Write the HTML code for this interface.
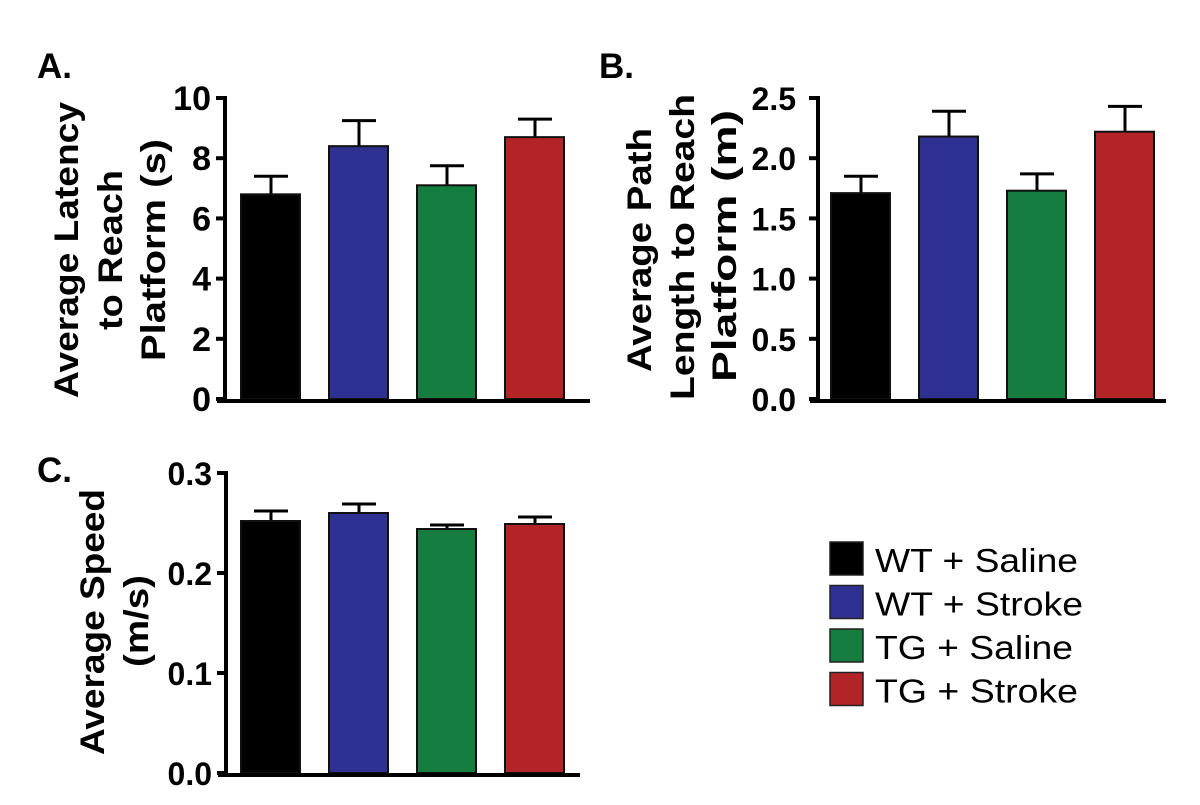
<!DOCTYPE html>
<html><head><meta charset="utf-8">
<style>
html,body{margin:0;padding:0;background:#fff;}
svg{display:block;font-family:"Liberation Sans",Arial,sans-serif;}
</style></head>
<body>
<svg id="fig" width="1200" height="805" viewBox="0 0 1200 805">
  <text x="37" y="78" font-size="35" font-weight="bold">A.</text>
  <text x="599" y="78" font-size="35" font-weight="bold">B.</text>
  <text x="37" y="482" font-size="35" font-weight="bold">C.</text>

  <g font-size="34" font-weight="bold" text-anchor="middle">
    <text transform="translate(78,250) rotate(-90)" textLength="296" lengthAdjust="spacingAndGlyphs">Average Latency</text>
    <text transform="translate(122,250) rotate(-90)" textLength="160" lengthAdjust="spacingAndGlyphs">to Reach</text>
    <text transform="translate(165,250) rotate(-90)" textLength="222" lengthAdjust="spacingAndGlyphs">Platform (s)</text>
  </g>
  <g font-size="34" font-weight="bold" text-anchor="middle">
    <text transform="translate(651,250) rotate(-90)" textLength="244" lengthAdjust="spacingAndGlyphs">Average Path</text>
    <text transform="translate(694,247) rotate(-90)" textLength="306" lengthAdjust="spacingAndGlyphs">Length to Reach</text>
    <text transform="translate(736,246) rotate(-90)" textLength="272" lengthAdjust="spacingAndGlyphs">Platform (m)</text>
  </g>
  <g font-size="34" font-weight="bold" text-anchor="middle">
    <text transform="translate(104,622) rotate(-90)" textLength="266" lengthAdjust="spacingAndGlyphs">Average Speed</text>
    <text transform="translate(148,621) rotate(-90)" textLength="92" lengthAdjust="spacingAndGlyphs">(m/s)</text>
  </g>

  <g id="legend"></g>
</svg>
<script>
const categories = ["WT + Saline", "WT + Stroke", "TG + Saline", "TG + Stroke"];
const colors = ["#000000", "#2e3192", "#157d3e", "#b22426"];
const latencyValues = [6.8, 8.4, 7.1, 8.7];
const latencyErrors = [0.6, 0.85, 0.65, 0.6];
const latencyTicks = ["0", "2", "4", "6", "8", "10"];
const pathValues = [1.71, 2.18, 1.73, 2.22];
const pathErrors = [0.14, 0.21, 0.14, 0.21];
const pathTicks = ["0.0", "0.5", "1.0", "1.5", "2.0", "2.5"];
const speedValues = [0.252, 0.260, 0.244, 0.249];
const speedErrors = [0.010, 0.009, 0.004, 0.007];
const speedTicks = ["0.0", "0.1", "0.2", "0.3"];

const NS = "http://www.w3.org/2000/svg";
const svg = document.getElementById("fig");
function el(tag, attrs, parent) {
  const e = document.createElementNS(NS, tag);
  for (const k in attrs) e.setAttribute(k, attrs[k]);
  (parent || svg).appendChild(e);
  return e;
}

function panel(id, cfg, values, errors, ticks) {
  const g = el("g", {});
  
  
  const max = parseFloat(ticks[ticks.length - 1]);
  const y = v => cfg.y0 - (v / max) * (cfg.y0 - cfg.yTop);
  const x = i => cfg.x0 + i * 88;
  values.forEach((v, i) => {
    const cx = x(i) + 30;
    const eb = el("g", {}, g);
    
    
    el("line", {x1: cx, x2: cx, y1: y(v), y2: y(v + errors[i]), stroke: "#000", "stroke-width": 3}, eb);
    el("line", {x1: cx - 17, x2: cx + 17, y1: y(v + errors[i]), y2: y(v + errors[i]), stroke: "#000", "stroke-width": 3}, eb);
    const r = el("rect", {x: x(i), y: y(v), width: 59, height: cfg.y0 - y(v), fill: colors[i], stroke: "#111", "stroke-width": 2}, g);
    
    
  });
  const ax = el("g", {}, g);
  
  
  el("line", {x1: cfg.axisX, x2: cfg.axisX, y1: cfg.yTop - 2, y2: cfg.y0 + 2, stroke: "#000", "stroke-width": 4}, ax);
  ticks.forEach(t => {
    const ty = y(parseFloat(t));
    el("line", {x1: cfg.axisX - 9, x2: cfg.axisX, y1: ty, y2: ty, stroke: "#000", "stroke-width": 4}, ax);
    const tx = el("text", {x: cfg.axisX - cfg.gap, y: ty + 12, "font-size": cfg.fs, "font-weight": "bold", "text-anchor": "end"}, ax);
    tx.textContent = t;
    
    
  });
  const base = el("line", {x1: cfg.axisX - 8, x2: cfg.xEnd, y1: cfg.y0 + 2, y2: cfg.y0 + 2, stroke: "#000", "stroke-width": 4}, g);
  
  
}

panel("latency", {x0: 241, axisX: 225, yTop: 98, y0: 399, xEnd: 590, gap: 14, fs: 34}, latencyValues, latencyErrors, latencyTicks);
panel("path-length", {x0: 831, axisX: 818, yTop: 98, y0: 399, xEnd: 1166, gap: 22, fs: 32}, pathValues, pathErrors, pathTicks);
panel("speed", {x0: 241, axisX: 226, yTop: 473, y0: 773, xEnd: 580, gap: 14, fs: 32}, speedValues, speedErrors, speedTicks);

const legendWidths = [203, 208, 198, 203];
const lg = document.getElementById("legend");
categories.forEach((c, i) => {
  const row = el("g", {}, lg);
  
  
  const yy = 542 + i * 43.5;
  el("rect", {x: 830, y: yy, width: 33, height: 33, fill: colors[i], stroke: "#222", "stroke-width": 1.5}, row);
  const t = el("text", {x: 875, y: yy + 30, "font-size": 33, textLength: legendWidths[i], lengthAdjust: "spacingAndGlyphs"}, row);
  t.textContent = c;
});
</script>
</body></html>
